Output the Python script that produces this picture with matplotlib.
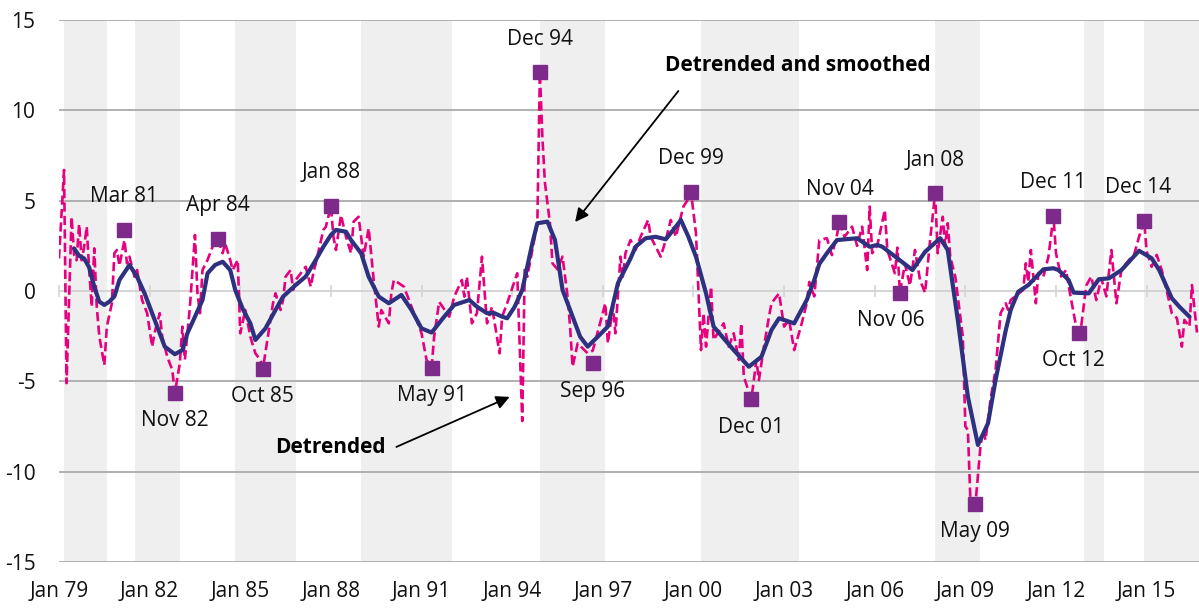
"""
Detrended vs detrended-and-smoothed series with turning points.
x values are months since Jan 1979.
"""
import matplotlib
matplotlib.use("Agg")
import matplotlib.pyplot as plt

plt.rcParams['font.family'] = ['Open Sans', 'DejaVu Sans']

# detrended series (month index, value)
det_m = [0, 2, 3, 5, 6, 7, 8, 9, 10, 11, 12, 13, 14, 15, 16, 18, 19, 21, 22, 23,
         24, 26, 27, 28, 30, 31, 33, 35, 37, 38, 40, 41, 43, 45, 46, 48, 49, 50, 51, 52,
         54, 55, 56, 57, 59, 62, 63, 65, 66, 68, 69, 71, 72, 74, 76, 78, 80, 81, 83, 85,
         86, 88, 89, 90, 92, 93, 94, 97, 98, 100, 101, 102, 105, 106, 108, 109, 110, 112, 114, 116,
         117, 119, 121, 123, 125, 127, 128, 131, 132, 133, 135, 137, 140, 144, 146, 148, 149, 151, 155, 157,
         160, 161, 162, 164, 166, 168, 170, 172, 175, 176, 178, 182, 184, 185, 186, 188, 190, 191, 192, 193,
         195, 196, 198, 200, 202, 203, 204, 206, 210, 212, 217, 218, 220, 221, 223, 224, 225, 227, 229, 231,
         234, 235, 239, 241, 243, 245, 248, 250, 251, 253, 255, 256, 257, 259, 260, 264, 266, 268, 270, 271,
         272, 275, 277, 278, 280, 282, 283, 286, 288, 290, 292, 295, 297, 298, 300, 302, 305, 307, 309, 310,
         312, 315, 317, 319, 321, 322, 323, 325, 328, 329, 332, 333, 334, 336, 338, 340, 342, 344, 346, 348,
         349, 351, 352, 353, 354, 356, 357, 359, 360, 361, 362, 364, 366, 367, 368, 370, 372, 374, 376, 377,
         378, 383, 384, 385, 386, 388, 389, 391, 393, 395, 396, 398, 400, 401, 404, 405, 406, 408, 410, 412,
         414, 416, 418, 420, 422, 425, 427, 429, 431, 432, 434, 436, 438, 440, 442, 444, 446, 447, 449, 450,
         452]
det_v = [1.8, 6.7, -5.1, 4.1, 2.0, 1.7, 3.7, 1.7, 2.45, 3.56, 1.16, -0.87, 2.36, -0.87, -2.5, -4.1, -1.97, -0.68, 2.09, 2.27,
         1.4, 2.82, 1.53, 1.9, 0.79, 1.16, -0.5, -1.23, -3.08, -2.3, -1.23, -2.53, -3.64, -4.37, -5.65, -4.0, -1.97, -3.8, -2.34, -0.87,
         3.1, -0.13, -1.23, 1.16, 1.72, 2.82, 2.9, 2.09, 2.64, 1.72, 1.16, 1.72, -2.34, -1.05, -2.53, -3.45, -3.82, -4.3, -2.5, -0.68,
         -0.13, -1.05, -0.5, 0.79, 1.16, 0.06, 0.61, 1.16, 1.34, 0.24, 0.98, 1.53, 3.38, 3.56, 4.7, 3.0, 2.27, 4.2, 3.0, 2.09,
         3.84, 4.11, 1.9, 3.47, 0.61, -1.97, -1.05, -1.79, -0.13, 0.61, 0.43, 0.24, -0.87, -2.34, -3.82, -4.25, -2.53, -0.6, -1.42, -0.31,
         0.61, -0.31, 0.79, -1.79, -1.23, 1.9, -1.79, -0.87, -3.45, -1.42, -0.68, 0.98, -7.2, 1.34, 0.79, 2.27, 3.75, 12.1, 8.5, 6.0,
         3.75, 1.53, 1.2, 1.9, -0.31, -1.97, -4.19, -2.9, -3.45, -3.3, -0.68, -2.9, -0.87, -2.34, 1.9, 0.8, 2.1, 2.82, 2.27, 3.0,
         3.93, 3.0, 1.9, 2.82, 3.93, 3.0, 4.67, 5.1, 5.5, 3.2, -3.27, -1.23, -3.08, 0.24, -2.71, -1.79, -3.08, -2.34, -3.82, -1.79,
         -4.74, -6.0, -3.82, -4.93, -3.08, -1.42, -0.68, -0.13, -1.97, -1.6, -3.27, -1.79, -0.68, 0.5, -0.3, 2.82, 2.92, 1.99, 3.1, 3.8,
         3.0, 3.56, 2.5, 3.56, 1.16, 4.67, 2.09, 2.5, 4.48, 2.27, 0.98, 2.4, -0.1, 1.5, 0.3, 2.27, 0.6, -0.1, 2.82, 5.4,
         2.09, 4.11, 2.5, 3.75, 1.9, 0.79, -0.31, -2.53, -7.5, -7.69, -11.57, -11.8, -8.6, -7.7, -8.25, -6.0, -4.37, -1.23, -0.68, -1.05,
         -0.5, 0.06, 1.53, 0.5, 2.27, -0.68, 1.0, 0.8, 1.9, 4.15, 2.09, 0.8, 1.16, 0.3, -1.97, -2.3, -1.97, 0.3, 0.8, -0.5,
         0.7, -0.3, 2.27, -0.68, 1.2, 1.72, 2.0, 3.0, 3.9, 2.2, 1.34, 2.0, 1.16, 0.0, -1.23, -1.5, -3.08, -1.6, -1.97, 0.33,
         -2.3]

# detrended and smoothed series (month index, value)
sm_m = [6, 8, 10, 12, 14, 16, 18, 20, 22, 24, 28, 31, 34, 38, 42, 46, 49, 51, 54, 57,
        59, 62, 65, 68, 70, 73, 76, 78, 82, 86, 89, 94, 98, 102, 105, 108, 110, 114, 116, 120,
        123, 127, 131, 136, 140, 144, 148, 153, 157, 163, 166, 170, 173, 176, 178, 181, 184, 188, 190, 194,
        197, 200, 204, 207, 210, 212, 214, 218, 222, 227, 229, 233, 237, 241, 244, 247, 250, 253, 257, 260,
        264, 268, 274, 279, 283, 286, 292, 297, 300, 302, 305, 309, 317, 322, 325, 327, 333, 339, 344, 350,
        353, 357, 361, 365, 369, 372, 376, 378, 381, 385, 391, 395, 397, 401, 403, 409, 413, 417, 422, 429,
        434, 437, 442, 445, 449]
sm_v = [2.35, 1.95, 1.8, 1.3, 0.24, -0.59, -0.77, -0.59, -0.3, 0.61, 1.44, 0.79, -0.13, -1.6, -3.08, -3.5, -3.27, -2.34, -1.42, -0.5,
        0.98, 1.44, 1.62, 1.16, 0.06, -1.0, -1.79, -2.71, -2.07, -1.05, -0.31, 0.33, 0.8, 1.72, 2.45, 3.1, 3.38, 3.28, 2.82, 2.09,
        0.79, -0.31, -0.68, -0.22, -1.05, -2.07, -2.3, -1.42, -0.77, -0.5, -0.87, -1.23, -1.23, -1.42, -1.51, -0.87, 0.06, 2.64, 3.75, 3.84,
        2.82, 0.06, -1.42, -2.53, -3.08, -2.8, -2.53, -1.97, 0.43, 1.8, 2.45, 2.92, 3.0, 2.86, 3.38, 3.93, 3.0, 1.9, -0.13, -1.97,
        -2.62, -3.27, -4.19, -3.64, -2.16, -1.51, -1.79, -0.5, 0.61, 1.5, 2.09, 2.82, 2.92, 2.45, 2.55, 2.45, 1.81, 1.16, 2.17, 2.92,
        2.27, -1.6, -5.85, -8.52, -7.32, -4.93, -2.2, -1.05, -0.04, 0.33, 1.2, 1.26, 1.16, 0.61, -0.09, -0.13, 0.65, 0.7, 1.16, 2.23,
        1.81, 1.16, -0.4, -0.87, -1.42]

# turning points
tp_labels = ["Mar 81", "Nov 82", "Apr 84", "Oct 85", "Jan 88", "May 91", "Dec 94", "Sep 96", "Dec 99",
             "Dec 01", "Nov 04", "Nov 06", "Jan 08", "May 09", "Dec 11", "Oct 12", "Dec 14"]
tp_m = [26, 46, 63, 81, 108, 148, 191, 212, 251, 275, 310, 334, 348, 364, 395, 405, 431]
tp_v = [3.4, -5.65, 2.9, -4.3, 4.7, -4.25, 12.1, -4.0, 5.5, -6.0, 3.8, -0.1, 5.4, -11.8, 4.15, -2.3, 3.9]
tp_peak = [True, False, True, False, True, False, True, False, True,
           False, True, False, True, False, True, False, True]

# shaded periods (month index)
band_start = [2, 30, 70, 120, 191, 255, 348, 407, 431]
band_end = [19, 48, 94, 156, 217, 294, 366, 415, 453]

tick_m = list(range(0, 433, 36))
tick_labels = ["Jan 79", "Jan 82", "Jan 85", "Jan 88", "Jan 91", "Jan 94", "Jan 97",
               "Jan 00", "Jan 03", "Jan 06", "Jan 09", "Jan 12", "Jan 15"]

PINK = "#E6007E"
NAVY = "#2E3080"
PURPLE = "#7D2A8A"

fig = plt.figure(figsize=(11.99, 6.08), dpi=100)
ax = fig.add_axes([59 / 1199, 46 / 608, 1140 / 1199, 542 / 608])

for s, e in zip(band_start, band_end):
    ax.axvspan(s, e, color="#EFEFEF", lw=0, zorder=0)

for y in [-15, -10, -5, 5, 10, 15]:
    ax.axhline(y, color="#B0B0B0", lw=1.4, zorder=1)
ax.axhline(0, color="#D4D4D4", lw=1.4, zorder=1)

ax.plot(det_m, det_v, color=PINK, lw=1.9, linestyle=(0, (3.5, 1.6)), zorder=3)
ax.plot(sm_m, sm_v, color=NAVY, lw=3.0, zorder=4, solid_capstyle="round", solid_joinstyle="round")
ax.plot(tp_m, tp_v, linestyle="none", marker="s", markersize=9.5, color=PURPLE, zorder=5)

for lab, m, v, pk in zip(tp_labels, tp_m, tp_v, tp_peak):
    dx = {"Nov 06": -6.5, "Dec 14": -4, "Oct 12": -3.5}.get(lab, 0)
    dy = 24 if pk else -20
    ax.annotate(lab, (m, v), xytext=(dx, dy), textcoords="offset points",
                ha="center", va="center", fontsize=15, color="#111111", zorder=6)

# callouts
ax.text(293.5, 12.5, "Detrended and smoothed", ha="center", va="center",
        fontsize=15, fontweight="bold")
ax.annotate("", xy=(205, 3.82), xytext=(246, 11.07),
            arrowprops=dict(arrowstyle="-|>", color="black", lw=1.3, mutation_scale=20,
                            shrinkA=0, shrinkB=0))
ax.text(107.6, -8.69, "Detrended", ha="center", va="center",
        fontsize=15, fontweight="bold")
ax.annotate("", xy=(179, -5.86), xytext=(134, -8.63),
            arrowprops=dict(arrowstyle="-|>", color="black", lw=1.3, mutation_scale=20,
                            shrinkA=0, shrinkB=0))

ax.set_xlim(0, 452.8)
ax.set_ylim(-15, 15)
ax.set_yticks([-15, -10, -5, 0, 5, 10, 15])
ax.set_yticklabels(["-15", "-10", "-5", "0", "5", "10", "15"])
ax.set_xticks(tick_m)
ax.set_xticklabels(tick_labels)
ax.tick_params(axis="both", length=0, labelsize=15, colors="#111111")
ax.tick_params(axis="y", pad=17)
ax.tick_params(axis="x", pad=14)
for sp in ax.spines.values():
    sp.set_visible(False)

# tick marks on the zero line
sec = ax.secondary_xaxis(0.5)
sec.set_xticks(tick_m)
sec.set_xticklabels([])
sec.tick_params(direction="inout", length=8, color="#D4D4D4", width=1.2)
sec.spines["bottom"].set_visible(False)
sec.spines["top"].set_visible(False)

fig.savefig("out.png", dpi=100)
